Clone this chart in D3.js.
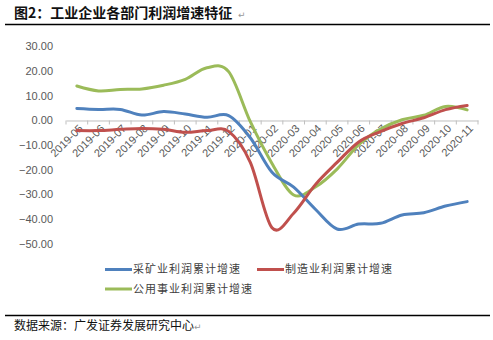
<!DOCTYPE html>
<html><head><meta charset="utf-8">
<script src="https://cdn.jsdelivr.net/npm/d3@7"></script>
<style>
html,body{margin:0;padding:0;background:#fff;}
svg{display:block;}
</style></head>
<body>
<svg id="chart" width="493" height="340"></svg>
<script>
const categories = ["2019-05","2019-06","2019-07","2019-08","2019-09","2019-10","2019-11","2019-12","2020-01","2020-02","2020-03","2020-04","2020-05","2020-06","2020-07","2020-08","2020-09","2020-10","2020-11"];
const mining = [4.9, 4.5, 4.5, 2.2, 3.6, 2.6, 1.3, 2.0, -7.0, -21.0, -27.0, -36.0, -44.0, -42.0, -41.7, -38.3, -37.4, -34.7, -32.9];
const manufacturing = [-4.1, -4.1, -3.6, -3.2, -3.6, -4.8, -4.1, -4.4, -17.0, -43.5, -37.6, -26.0, -17.0, -8.7, -4.5, -1.2, 1.1, 4.4, 6.1];
const utilities = [14.0, 12.0, 12.6, 12.8, 14.3, 16.7, 21.4, 19.8, -0.5, -17.4, -30.2, -27.0, -19.7, -9.8, -3.5, 0.3, 2.1, 5.7, 4.3];
const yTicks = [30, 20, 10, 0, -10, -20, -30, -40, -50];
const seriesNames = ["采矿业利润累计增速", "制造业利润累计增速", "公用事业利润累计增速"];
const seriesColors = ["#4F81BD", "#C0504D", "#9BBB59"];
const title = "图2：工业企业各部门利润增速特征";
const source = "数据来源：广发证券发展研究中心";

const svg = d3.select("#chart");
const cjk = "'Noto Sans CJK SC','Noto Sans',sans-serif";
const latin = "'Liberation Sans',Arial,sans-serif";

// title
svg.append("text").attr("x", 14).attr("y", 18)
  .attr("font-family", cjk).attr("font-size", 14).attr("font-weight", "bold")
  .attr("fill", "#111").text(title);
svg.append("text").attr("x", 238).attr("y", 18)
  .attr("font-family", "DejaVu Sans").attr("font-size", 9).attr("fill", "#999").text("↵");

// rules
svg.append("line").attr("x1", 5).attr("x2", 490).attr("y1", 24.5).attr("y2", 24.5)
  .attr("stroke", "#000").attr("stroke-width", 1.5);
svg.append("line").attr("x1", 5).attr("x2", 490).attr("y1", 315.5).attr("y2", 315.5)
  .attr("stroke", "#000").attr("stroke-width", 1.5);

// source
svg.append("text").attr("x", 14).attr("y", 330)
  .attr("font-family", cjk).attr("font-size", 12)
  .attr("fill", "#111").text(source);
svg.append("text").attr("x", 194).attr("y", 330)
  .attr("font-family", "DejaVu Sans").attr("font-size", 9).attr("fill", "#999").text("↵");

// scales
const x = d3.scaleBand().domain(categories).range([66, 478]);
const y = d3.scaleLinear().domain([-50, 30]).range([243.8, 46.5]);
const cx = d => x(d) + x.bandwidth() / 2;

// y labels
svg.append("g").selectAll("text").data(yTicks).join("text")
  .attr("x", 53).attr("y", d => y(d)).attr("dy", "0.35em")
  .attr("text-anchor", "end")
  .attr("font-family", latin).attr("font-size", 11).attr("fill", "#595959")
  .text(d => d3.format(".2f")(d));

// x axis at zero
const xAxis = d3.axisBottom(x).tickSize(0).tickFormat("");
const gx = svg.append("g").attr("transform", `translate(0,${y(0)})`).call(xAxis);
gx.select(".domain").attr("stroke", "#BFBFBF").attr("stroke-width", 1);
gx.selectAll(".tick").remove();
const bounds = categories.map(c => x(c)).concat([x(categories[categories.length - 1]) + x.bandwidth()]);
svg.append("g").selectAll("line").data(bounds).join("line")
  .attr("x1", d => d).attr("x2", d => d)
  .attr("y1", y(0)).attr("y2", y(0) + 4)
  .attr("stroke", "#BFBFBF").attr("stroke-width", 1);

// x labels rotated
svg.append("g").selectAll("text").data(categories).join("text")
  .attr("transform", d => `translate(${cx(d) + 4},${y(0) + 6}) rotate(-45)`)
  .attr("text-anchor", "end").attr("dy", "0.35em")
  .attr("font-family", latin).attr("font-size", 11).attr("fill", "#595959")
  .text(d => d);

// lines
const allSeries = [mining, manufacturing, utilities];
const line = d3.line()
  .x((d, i) => cx(categories[i]))
  .y(d => y(d))
  .curve(d3.curveCatmullRom.alpha(0));
const drawOrder = [2, 0, 1];
svg.append("g").selectAll("path").data(drawOrder).join("path")
  .attr("d", k => line(allSeries[k]))
  .attr("fill", "none").attr("stroke", k => seriesColors[k])
  .attr("stroke-width", 3).attr("stroke-linecap", "round").attr("stroke-linejoin", "round");

// legend
const legendPos = [[105, 269.5], [257, 269.5], [105, 289]];
const lg = svg.append("g").selectAll("g").data(seriesNames).join("g")
  .attr("transform", (d, i) => `translate(${legendPos[i][0]},${legendPos[i][1]})`);
lg.append("line").attr("x1", 0).attr("x2", 27).attr("y1", 0).attr("y2", 0)
  .attr("stroke", (d, i) => seriesColors[i]).attr("stroke-width", 3);
lg.append("text").attr("x", 28).attr("y", 0).attr("dy", "0.36em")
  .attr("font-family", cjk).attr("font-size", 11).attr("letter-spacing", 1)
  .attr("fill", "#404040").text(d => d);
</script>
</body></html>
